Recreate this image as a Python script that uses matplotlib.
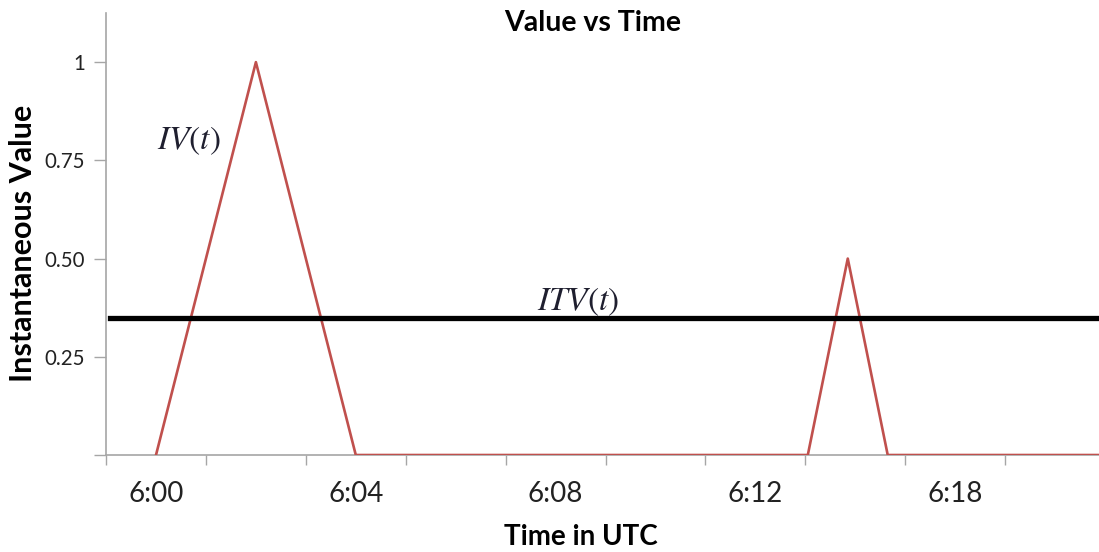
import matplotlib
matplotlib.use('Agg')
from matplotlib import pyplot as plt

# minutes after 6:00 UTC
time_min = [0, 2, 4, 13.05, 13.85, 14.65, 18.9]
iv_values = [0, 1, 0, 0, 0.5, 0, 0]
itv_level = 0.35

tick_pos = [0, 4, 8, 12, 16]
tick_labels = ['6:00', '6:04', '6:08', '6:12', '6:18']
minor_pos = [-1, 1, 3, 5, 7, 9, 11, 13, 15, 17]
y_ticks = [0.25, 0.5, 0.75, 1]
y_labels = ['0.25', '0.50', '0.75', '1']

plt.rcParams['font.family'] = ['Lato', 'DejaVu Sans']
plt.rcParams['mathtext.fontset'] = 'stix'

fig = plt.figure(figsize=(10.99, 5.52), dpi=100)
ax = fig.add_axes([0.0965, 0.1757, 0.9035, 0.8007])

grey = '#a6a6a6'
ax.plot(time_min, iv_values, color='#c0504d', lw=1.9, zorder=3)
ax.axhline(itv_level, xmin=0.004, xmax=1, color='black', lw=3.8, zorder=4)

ax.set_xlim(-0.98, 18.88)
ax.set_ylim(0, 1.125)

ax.set_xticks(minor_pos)
ax.set_xticklabels([''] * len(minor_pos))
ax.set_xticks(tick_pos, minor=True)
ax.set_xticklabels(tick_labels, minor=True)
ax.tick_params(axis='x', which='major', length=7, width=1, color=grey, direction='out')
ax.tick_params(axis='x', which='minor', length=0, labelsize=20, pad=19, labelcolor='#222222')

ax.set_yticks([0] + y_ticks)
ax.set_yticklabels([''] + y_labels)
ax.tick_params(axis='y', length=9, width=1, color=grey, labelsize=14.8, pad=6, labelcolor='#222222')

for side in ('top', 'right'):
    ax.spines[side].set_visible(False)
for side in ('left', 'bottom'):
    ax.spines[side].set_color(grey)
    ax.spines[side].set_linewidth(1.2)

ax.text(0.66, 0.8, r'$IV(t)$', fontsize=24, color='#1f1f2f', ha='center', va='center')
ax.text(8.46, 0.39, r'$ITV(t)$', fontsize=24, color='#1f1f2f', ha='center', va='center')

fig.text(0.539, 0.958, 'Value vs Time', fontsize=20.5, fontweight='bold', ha='center', va='center')
fig.text(0.529, 0.027, 'Time in UTC', fontsize=20, fontweight='bold', ha='center', va='center')
fig.text(0.021, 0.56, 'Instantaneous Value', fontsize=22, fontweight='bold', rotation=90,
         ha='center', va='center')

fig.savefig('out.png', dpi=100)
